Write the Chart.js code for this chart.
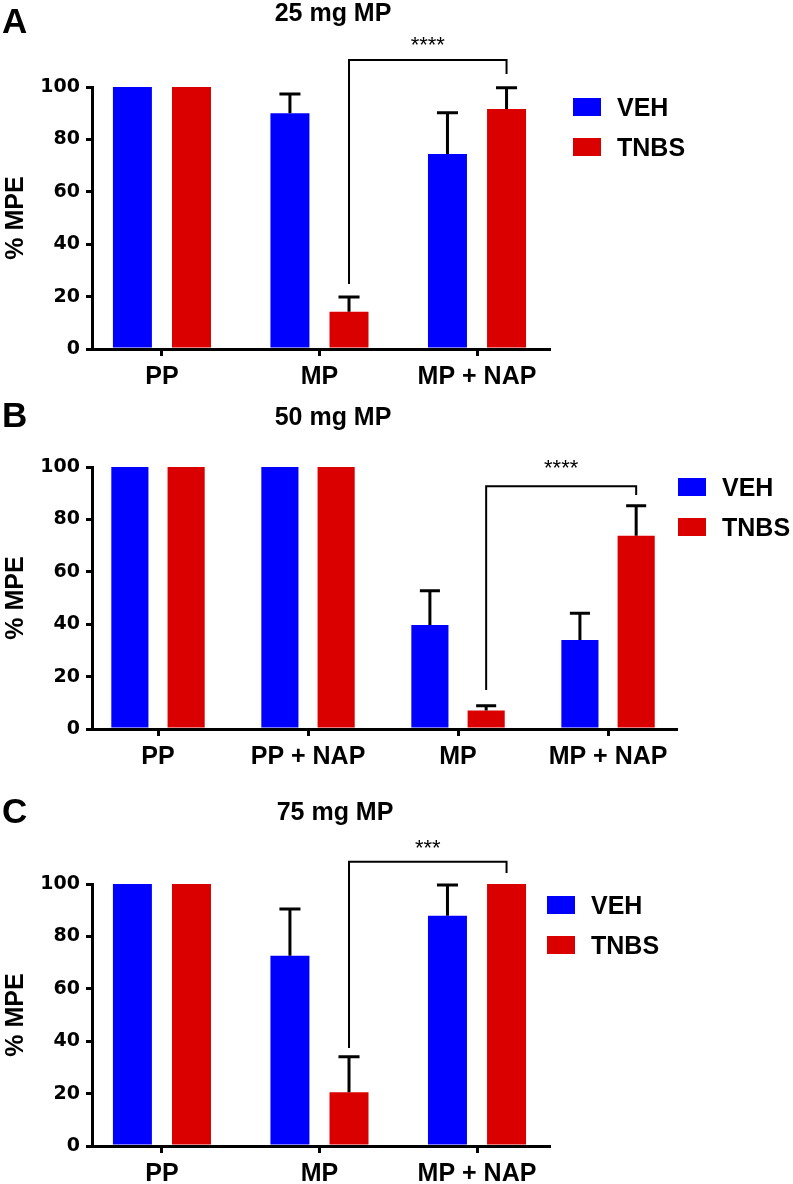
<!DOCTYPE html>
<html><head><meta charset="utf-8">
<script src="https://cdn.jsdelivr.net/npm/chart.js@4.4.1/dist/chart.umd.min.js"></script>
<style>
html,body{margin:0;padding:0;background:#fff;}
body{width:793px;height:1184px;position:relative;overflow:hidden;}
canvas{position:absolute;left:0;}
</style></head><body>
<canvas id="cA" width="793" height="400" style="top:0px"></canvas>
<canvas id="cB" width="793" height="410" style="top:380px"></canvas>
<canvas id="cC" width="793" height="394" style="top:790px"></canvas>
<script>
// ---------- data ----------
const seriesNames = ['VEH', 'TNBS'];
const seriesColors = ['#0000FF', '#DA0000'];
const yTicks = [0, 20, 40, 60, 80, 100];

const categoriesA = ['PP', 'MP', 'MP + NAP'];
const vehA = [100, 90.0, 74.4];
const vehErrA = [0, 7.3, 15.8];
const tnbsA = [100, 14.2, 91.6];
const tnbsErrA = [0, 5.6, 8.1];
const sigA = { from: 1, to: 2, top: 110.3, leftEnd: 24.8, rightEnd: 105, label: '****', labelAt: 113.5 };

const categoriesB = ['PP', 'PP + NAP', 'MP', 'MP + NAP'];
const vehB = [100, 100, 39.7, 34.0];
const vehErrB = [0, 0, 13.1, 10.2];
const tnbsB = [100, 100, 7.1, 73.8];
const tnbsErrB = [0, 0, 1.8, 11.4];
const sigB = { from: 2, to: 3, top: 92.7, leftEnd: 14.9, rightEnd: 89.3, label: '****', labelAt: 97.1 };

const categoriesC = ['PP', 'MP', 'MP + NAP'];
const vehC = [100, 72.6, 87.9];
const vehErrC = [0, 17.9, 11.7];
const tnbsC = [100, 20.5, 100];
const tnbsErrC = [0, 13.6, 0];
const sigC = { from: 1, to: 2, top: 108.5, leftEnd: 37.4, rightEnd: 104.2, label: '***', labelAt: 110.9 };

const titles = ['25 mg MP', '50 mg MP', '75 mg MP'];
const panelLetters = ['A', 'B', 'C'];

// ---------- rendering ----------
const FONT = '"Liberation Sans", Arial, Helvetica, sans-serif';
Chart.defaults.font.family = FONT;
Chart.defaults.color = '#000';

const deco = {
  id: 'deco',
  afterDatasetsDraw(chart, args, o) {
    const ctx = chart.ctx, ys = chart.scales.y;
    ctx.save();
    ctx.strokeStyle = '#000';
    ctx.lineCap = 'butt';
    // error bars (upper only)
    chart.data.datasets.forEach((ds, di) => {
      const meta = chart.getDatasetMeta(di);
      meta.data.forEach((bar, i) => {
        const e = ds.errors[i];
        if (!e) return;
        const yTop = ys.getPixelForValue(ds.data[i].y + e);
        const hw = bar.width * 0.27;
        ctx.lineWidth = 3;
        ctx.beginPath();
        ctx.moveTo(bar.x, bar.y);
        ctx.lineTo(bar.x, yTop);
        ctx.moveTo(bar.x - hw, yTop);
        ctx.lineTo(bar.x + hw, yTop);
        ctx.stroke();
      });
    });
    // significance bracket (between TNBS bars)
    const s = o.sig;
    const m = chart.getDatasetMeta(1);
    const x1 = m.data[s.from].x, x2 = m.data[s.to].x;
    const yt = ys.getPixelForValue(s.top);
    ctx.lineWidth = 2;
    ctx.beginPath();
    ctx.moveTo(x1, ys.getPixelForValue(s.leftEnd));
    ctx.lineTo(x1, yt);
    ctx.lineTo(x2, yt);
    ctx.lineTo(x2, ys.getPixelForValue(s.rightEnd));
    ctx.stroke();
    ctx.fillStyle = '#000';
    ctx.font = '22px ' + FONT;
    ctx.textAlign = 'center';
    ctx.textBaseline = 'alphabetic';
    ctx.fillText(s.label, (x1 + x2) / 2, ys.getPixelForValue(s.labelAt));
    ctx.restore();
  },
  afterDraw(chart, args, o) {
    const ctx = chart.ctx;
    ctx.save();
    ctx.fillStyle = '#000';
    ctx.textBaseline = 'alphabetic';
    // panel letter
    ctx.font = 'bold 35px ' + FONT;
    ctx.textAlign = 'left';
    ctx.fillText(o.letter, 2, o.letterBase);
    // title
    ctx.font = 'bold 25px ' + FONT;
    ctx.textAlign = 'center';
    ctx.fillText(o.title, o.titleCenter, o.titleBase);
    // legend
    ctx.textAlign = 'left';
    chart.data.datasets.forEach((ds, i) => {
      const y0 = o.legend.y + i * 40;
      ctx.fillStyle = ds.backgroundColor;
      ctx.fillRect(o.legend.x, y0, 28, 18);
      ctx.fillStyle = '#000';
      ctx.fillText(ds.label, o.legend.x + 44, y0 + 18);
    });
    ctx.restore();
  }
};

function makeChart(id, cats, veh, vehErr, tnbs, tnbsErr, sig, L) {
  const pts = arr => arr.map((v, i) => ({ x: i, y: v }));
  return new Chart(document.getElementById(id), {
    type: 'bar',
    data: {
      datasets: [
        { label: seriesNames[0], data: pts(veh), errors: vehErr, backgroundColor: seriesColors[0], borderWidth: 0 },
        { label: seriesNames[1], data: pts(tnbs), errors: tnbsErr, backgroundColor: seriesColors[1], borderWidth: 0 }
      ]
    },
    plugins: [deco],
    options: {
      responsive: false,
      animation: false,
      devicePixelRatio: 1,
      categoryPercentage: 0.75,
      barPercentage: 0.66,
      layout: { padding: { top: L.top, left: 0, right: 793 - L.right, bottom: 0 } },
      plugins: {
        legend: { display: false },
        tooltip: { enabled: false },
        deco: { sig: sig, letter: L.letter, title: L.title, titleCenter: L.titleCenter,
                titleBase: L.titleBase, letterBase: L.letterBase, legend: L.legend }
      },
      scales: {
        x: {
          type: 'linear',
          offset: false,
          min: L.xMin, max: cats.length - 1 + L.xMaxPad,
          afterFit: s => { s.height = L.H - L.bottom; },
          ticks: { stepSize: 1, includeBounds: false, padding: 6,
                   font: { size: 25, weight: 'bold' }, color: '#000',
                   callback: v => cats[v] !== undefined ? cats[v] : '' },
          grid: { display: true, offset: false, drawOnChartArea: false, drawTicks: true,
                  tickLength: 7, lineWidth: 3, color: '#000' },
          border: { display: true, color: '#000', width: 3, z: 1 }
        },
        y: {
          min: 0, max: 100,
          afterFit: s => { s.width = 92; },
          afterBuildTicks: s => { s.ticks = yTicks.map(v => ({ value: v })); },
          ticks: { padding: 6, font: { family: '"DejaVu Sans", sans-serif', size: 19, weight: 'bold' }, color: '#000' },
          grid: { display: true, drawOnChartArea: false, drawTicks: true, tickLength: 6, lineWidth: 3, color: '#000' },
          border: { display: true, color: '#000', width: 3, z: 1 },
          title: { display: true, text: '% MPE', font: { size: 25, weight: 'bold' }, color: '#000', padding: { top: 1, bottom: 0 } }
        }
      }
    }
  });
}

makeChart('cA', categoriesA, vehA, vehErrA, tnbsA, tnbsErrA, sigA,
  { H: 400, top: 87, bottom: 349, right: 549, xMin: -0.444, xMaxPad: 0.457,
    letter: panelLetters[0], title: titles[0], titleCenter: 333, titleBase: 21, letterBase: 33,
    legend: { x: 573, y: 98 } });
makeChart('cB', categoriesB, vehB, vehErrB, tnbsB, tnbsErrB, sigB,
  { H: 410, top: 87, bottom: 349, right: 676, xMin: -0.44, xMaxPad: 0.453,
    letter: panelLetters[1], title: titles[1], titleCenter: 333, titleBase: 45, letterBase: 47,
    legend: { x: 678, y: 98 } });
makeChart('cC', categoriesC, vehC, vehErrC, tnbsC, tnbsErrC, sigC,
  { H: 394, top: 94, bottom: 356, right: 549, xMin: -0.444, xMaxPad: 0.457,
    letter: panelLetters[2], title: titles[2], titleCenter: 335, titleBase: 30, letterBase: 33,
    legend: { x: 547, y: 106 } });
</script>
</body></html>
